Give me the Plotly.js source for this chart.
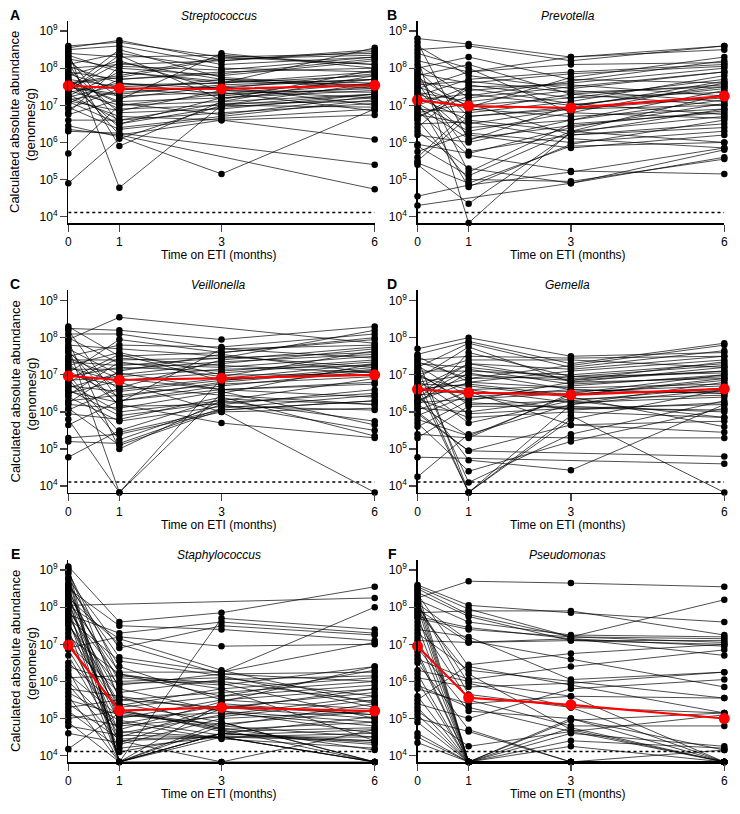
<!DOCTYPE html>
<html>
<head>
<meta charset="utf-8">
<script src="https://cdn.plot.ly/plotly-3.0.1.min.js"></script>
<style>
html,body{margin:0;padding:0;background:#fff;}
#chart{width:740px;height:814px;}
</style>
</head>
<body>
<div id="chart"></div>
<script>
// ---------------- DATA (log10 genomes/g; 3.83 = below detection, plotted on the axis floor) ----------------
const months = [0, 1, 3, 6];
const LOD = 1.3e4;
const tickVals = [1e4, 1e5, 1e6, 1e7, 1e8, 1e9];
const tickText = ['10<sup>4</sup>','10<sup>5</sup>','10<sup>6</sup>','10<sup>7</sup>','10<sup>8</sup>','10<sup>9</sup>'];
const taxa = ['Streptococcus','Prevotella','Veillonella','Gemella','Staphylococcus','Pseudomonas'];
const letters = ['A','B','C','D','E','F'];

// Streptococcus
const strepM0 = [8.6,8.55,8.5,8.45,8.4,8.35,8.3,8.25,8.2,8.1,8.05,8.0,7.95,7.9,7.85,7.8,7.75,7.7,7.65,7.6,7.55,7.5,7.45,7.4,7.35,7.3,7.25,7.2,7.15,7.1,7.05,6.45,6.3,6.35,5.7,4.9,6.9,6.8,6.75,7.62,7.48,7.38,7.22,7.12,7.68,8.15,6.95,7.58,7.42,6.6];
const strepM1 = [8.7,8.75,8.6,4.78,8.3,7.9,6.5,8.0,7.2,8.4,7.6,8.1,6.8,7.7,7.4,8.2,6.2,7.5,7.1,7.8,6.9,7.3,8.5,7.0,7.6,6.6,7.9,6.7,7.35,6.5,7.7,6.15,6.25,6.2,7.0,6.1,7.45,8.05,7.15,6.4,7.25,8.35,7.55,6.85,7.05,5.9,6.35,7.75,8.15,6.6];
const strepM3 = [8.3,8.2,8.1,7.0,8.35,7.6,7.2,7.8,7.5,8.0,7.3,8.2,6.9,7.9,7.7,7.4,6.6,7.6,7.2,8.3,7.0,7.55,7.75,7.1,7.45,6.8,7.65,6.6,7.5,6.95,7.85,5.15,null,null,7.3,7.0,7.25,7.95,8.4,6.7,7.35,7.15,7.6,7.4,6.75,7.1,6.65,8.25,7.7,7.05];
const strepM6 = [8.4,8.5,8.3,7.6,8.1,7.8,7.5,8.2,7.0,7.9,7.7,8.45,7.3,8.0,7.6,7.2,6.74,7.9,7.4,8.1,6.95,7.7,7.5,7.3,7.85,7.05,7.55,6.08,7.7,7.2,8.25,6.9,5.4,4.74,7.45,7.3,7.6,8.3,8.0,7.15,6.85,7.95,8.55,7.35,7.25,7.8,6.9,8.35,7.45,7.1];
const strepMean = [7.53, 7.46, 7.44, 7.54];

// Prevotella
const prevM0 = [8.8,8.7,8.5,8.3,8.2,8.1,8.0,7.95,7.9,7.85,7.8,7.7,7.65,7.6,7.5,7.45,7.4,7.35,7.3,7.25,7.2,7.15,7.1,7.05,7.0,6.95,6.9,6.85,6.8,6.75,6.7,6.6,6.5,6.4,6.3,6.2,5.9,5.75,5.6,5.45,5.4,4.55,4.3,8.6,8.4,7.75,7.55,6.65,5.95,5.5];
const prevM1 = [8.65,6.05,8.6,3.83,7.9,7.2,8.3,6.7,5.2,7.6,8.1,6.4,7.4,5.75,7.0,7.9,6.2,7.1,6.9,7.7,6.6,7.3,4.8,6.3,7.5,6.1,6.8,5.65,7.05,6.5,7.25,5.0,6.55,7.55,5.3,6.0,5.1,6.25,6.85,4.9,4.35,4.85,null,7.8,8.0,6.95,7.65,7.45,5.7,6.7];
const prevM3 = [8.3,7.0,8.2,6.3,8.1,7.5,7.7,6.9,6.5,7.85,7.3,6.6,7.6,6.2,7.2,8.3,5.85,7.4,6.7,7.9,6.3,7.0,5.95,6.8,7.55,6.45,7.1,5.23,6.2,6.9,7.65,4.95,6.1,7.2,4.9,6.6,6.3,6.0,7.3,5.9,6.25,5.2,4.9,7.45,6.8,7.75,7.35,7.05,6.4,6.95];
const prevM6 = [8.5,7.5,8.6,7.3,8.15,7.9,7.6,7.2,6.8,8.05,7.0,7.4,8.0,6.5,7.7,8.6,6.2,7.1,6.9,8.1,6.0,7.45,6.6,7.6,7.25,6.85,7.8,5.15,6.4,7.0,8.2,5.55,5.85,7.35,5.8,7.15,6.7,6.3,7.55,6.0,6.9,5.85,5.6,7.9,6.65,8.3,7.5,6.75,7.05,7.65];
const prevMean = [7.14, 6.98, 6.93, 7.25];

// Veillonella
const veilM0 = [7.95,8.3,8.25,8.2,8.1,8.0,7.9,7.8,7.75,7.7,7.6,7.5,7.45,7.4,7.3,7.25,7.2,7.15,7.1,7.05,7.0,6.95,6.9,6.85,6.8,6.75,6.7,6.65,6.6,6.5,6.45,6.4,6.3,6.2,6.1,6.05,5.95,5.8,5.65,5.3,5.2,4.78,7.35,6.55,7.65,6.25,7.0,6.88];
const veilM1 = [8.55,7.5,8.2,6.3,8.1,7.3,5.0,7.7,3.83,7.0,6.6,7.8,6.9,7.4,6.2,7.6,6.8,7.15,6.4,7.95,6.7,7.2,5.25,6.95,7.45,6.0,6.55,7.05,5.9,6.85,7.35,5.75,6.45,6.1,5.1,6.65,5.8,3.83,6.3,5.4,5.15,5.5,7.25,6.25,6.15,7.1,5.45,7.55];
const veilM3 = [null,7.6,7.95,6.7,7.7,7.2,6.3,7.5,6.5,7.3,6.9,7.75,6.6,7.45,5.7,7.0,6.0,7.35,6.8,7.6,6.45,7.1,6.2,7.15,7.25,6.3,6.85,6.6,6.25,7.05,6.95,6.15,6.75,6.55,6.05,7.4,6.4,6.9,6.6,6.0,6.1,6.35,7.45,7.7,6.2,7.55,6.05,6.85];
const veilM6 = [7.85,8.0,8.3,7.1,7.8,7.5,6.9,7.2,7.3,7.7,7.3,8.1,6.4,7.6,5.3,7.0,3.83,7.55,7.15,7.95,6.2,7.4,6.6,7.25,7.05,5.75,7.2,6.8,6.5,7.35,7.65,6.05,6.95,5.65,6.3,7.75,5.35,7.0,6.75,6.1,6.45,6.2,8.2,7.45,5.5,7.05,6.3,7.12];
const veilMean = [6.97, 6.86, 6.91, 7.0];

// Gemella
const gemM0 = [7.7,7.55,7.5,7.45,7.4,7.3,7.25,7.2,7.15,7.1,7.05,7.0,6.95,6.9,6.85,6.8,6.75,6.7,6.65,6.6,6.55,6.5,6.45,6.4,6.35,6.3,6.25,6.2,6.15,6.1,6.05,6.0,5.9,5.8,5.7,5.6,5.4,5.3,4.78,4.25,7.35,6.88,6.62,6.28,5.95,7.02,6.48,6.72];
const gemM1 = [8.0,7.9,6.8,3.83,7.5,7.2,6.4,7.85,4.1,7.1,6.2,7.4,6.6,7.75,5.95,7.0,6.7,3.83,7.3,6.5,6.9,4.7,6.6,7.15,5.85,6.8,6.35,5.35,7.6,6.0,6.55,4.95,6.45,5.35,4.4,6.3,5.3,6.15,null,5.4,6.9,3.83,6.75,7.05,4.95,6.25,7.3,5.7];
const gemM3 = [7.5,7.3,7.1,6.2,7.45,6.9,6.6,7.2,5.4,7.0,6.3,7.4,6.7,6.8,6.1,6.85,6.4,5.8,7.15,6.55,6.95,4.43,6.25,6.75,6.0,6.65,6.5,5.3,6.95,6.35,5.65,null,6.05,6.45,5.2,6.8,6.5,6.15,null,6.2,7.25,5.9,6.45,6.6,5.65,6.1,6.85,6.3];
const gemM6 = [7.6,7.85,7.4,6.8,7.5,7.1,6.5,7.65,6.3,7.3,5.85,7.2,7.0,6.9,6.2,7.35,5.6,6.6,7.5,6.7,7.05,6.2,6.4,6.95,5.85,6.75,6.55,5.3,7.25,6.45,5.45,4.8,6.25,6.9,6.1,7.2,7.0,6.0,4.6,6.6,7.8,3.83,6.85,6.5,5.75,6.05,7.1,6.65];
const gemMean = [6.61, 6.52, 6.46, 6.62];

// Staphylococcus
const staphM0 = [8.05,9.1,9.05,9.0,8.95,8.9,8.5,8.45,8.4,8.35,8.3,8.25,8.2,8.15,8.1,8.05,8.0,7.95,7.9,7.85,7.8,7.75,7.7,7.6,7.5,7.4,7.3,7.2,7.1,7.0,6.9,6.7,6.5,6.3,6.2,6.1,6.0,5.9,5.8,5.7,5.6,5.5,5.4,5.3,5.2,5.1,5.0,4.9,4.8,4.6,4.18,8.6,8.75,8.55,8.8,8.65,7.65,7.55,6.85,6.4];
const staphM1 = [null,7.6,3.83,5.5,6.2,3.83,7.5,5.8,3.83,6.0,5.2,7.0,4.3,6.25,5.0,7.15,3.83,5.6,6.1,4.6,7.3,5.4,6.55,4.9,5.9,3.83,5.25,6.2,4.5,5.7,7.2,4.4,5.3,3.83,5.05,6.15,4.7,4.4,5.6,4.95,3.83,5.1,4.45,5.5,4.2,4.8,5.2,3.83,4.55,4.35,5.15,6.65,6.9,4.85,3.83,6.4,4.1,5.35,4.65,5.95];
const staphM3 = [null,7.85,7.7,5.3,5.6,4.5,7.4,5.2,3.83,6.1,4.8,6.2,5.0,6.25,5.5,6.3,4.6,4.7,5.9,5.1,7.6,4.9,6.15,4.45,6.2,5.4,4.65,5.8,5.3,6.05,6.95,4.5,5.6,4.6,5.15,5.95,5.45,3.83,5.2,4.55,4.8,4.85,4.5,5.7,4.5,5.05,4.7,4.6,4.5,5.25,4.75,6.25,7.5,5.35,4.9,5.5,4.6,5.8,4.5,6.0];
const staphM6 = [8.25,8.55,7.4,5.0,6.3,3.83,7.1,4.9,4.7,5.6,4.5,6.0,5.2,8.0,5.8,5.4,4.4,3.83,6.4,5.6,7.3,3.83,5.3,4.2,6.25,5.1,4.75,4.4,5.7,6.15,7.0,3.83,5.9,4.3,4.8,5.0,6.4,3.83,4.6,4.7,5.4,5.2,4.5,6.0,3.83,5.5,4.9,5.05,4.4,5.8,4.15,7.05,7.25,5.1,3.83,5.25,4.35,6.1,4.6,5.45];
const staphMean = [6.98, 5.21, 5.30, 5.20];

// Pseudomonas
const pseudM0 = [8.25,8.6,8.5,8.45,8.4,8.35,8.3,8.2,8.15,8.1,8.05,8.0,7.95,7.9,7.85,7.8,7.7,7.6,7.5,7.4,7.3,7.2,7.1,6.9,6.7,6.6,6.5,6.3,6.2,6.1,6.0,5.9,5.8,5.6,5.5,5.4,5.3,5.2,5.1,5.0,4.9,4.6,4.5,4.35,8.55,7.75,6.8,8.1];
const pseudM1 = [8.7,8.05,7.8,3.83,7.75,6.4,3.83,7.6,3.83,7.1,5.95,3.83,7.05,6.2,7.9,3.83,7.4,5.5,3.83,7.2,6.3,3.83,7.05,5.2,3.83,6.05,4.7,6.0,3.83,5.85,3.83,5.3,5.4,3.83,6.45,5.0,3.83,4.25,3.83,4.65,3.83,3.83,3.83,3.83,7.95,7.45,3.83,5.65];
const pseudM3 = [8.65,7.85,7.2,3.83,7.1,5.9,4.4,7.25,3.83,6.6,5.3,4.6,7.15,4.7,7.9,3.83,7.2,4.8,3.83,6.05,6.0,4.75,7.1,5.0,4.95,6.4,3.83,5.6,3.83,5.95,4.25,4.65,5.6,3.83,6.75,5.8,3.83,4.65,3.83,3.83,3.83,5.0,3.83,3.83,7.2,7.15,3.83,5.3];
const pseudM6 = [8.55,7.6,7.15,3.83,7.0,5.15,4.2,7.2,3.83,5.85,3.83,4.25,6.7,3.83,7.25,3.83,8.2,4.8,4.15,6.25,5.55,3.83,7.1,3.83,5.15,6.85,3.83,3.83,3.83,6.25,3.83,3.83,5.55,3.83,7.0,6.05,3.83,5.1,3.83,3.83,3.83,4.15,3.83,3.83,7.05,6.95,3.83,5.15];
const pseudMean = [6.95, 5.56, 5.37, 5.00];

// ---------------- BUILD ----------------
const panels = [
  {t: [strepM0, strepM1, strepM3, strepM6], mean: strepMean},
  {t: [prevM0, prevM1, prevM3, prevM6], mean: prevMean},
  {t: [veilM0, veilM1, veilM3, veilM6], mean: veilMean},
  {t: [gemM0, gemM1, gemM3, gemM6], mean: gemMean},
  {t: [staphM0, staphM1, staphM3, staphM6], mean: staphMean},
  {t: [pseudM0, pseudM1, pseudM3, pseudM6], mean: pseudMean}
];

const W = 740, H = 814;
const px = v => v / W;
const py = v => 1 - v / H;
const colX = [[68.3, 374.7], [417.5, 724.3]];
const rowY = [[20.7, 223.3], [290.2, 492.8], [559.7, 762.3]];
const FONT = 'Arial, "Liberation Sans", sans-serif';

const traces = [];
const layout = {
  width: W, height: H,
  margin: {l: 0, r: 0, t: 0, b: 0},
  paper_bgcolor: '#fff', plot_bgcolor: '#fff',
  showlegend: false,
  font: {family: FONT, size: 12, color: '#000'},
  annotations: []
};

panels.forEach((p, k) => {
  const col = k % 2, row = Math.floor(k / 2);
  const sfx = k === 0 ? '' : String(k + 1);
  const xa = 'x' + sfx, ya = 'y' + sfx;
  const n = p.t[0].length;
  const lx = [], ly = [], mx = [], my = [];
  for (let i = 0; i < n; i++) {
    for (let j = 0; j < 4; j++) {
      const v = p.t[j][i];
      if (v === null || v === undefined) continue;
      lx.push(months[j]); ly.push(Math.pow(10, v));
      mx.push(months[j]); my.push(Math.pow(10, v));
    }
    lx.push(null); ly.push(null);
  }
  traces.push({x: [0, 6], y: [LOD, LOD], mode: 'lines', xaxis: xa, yaxis: ya,
    line: {color: '#000', width: 1.5, dash: 'dot'}, hoverinfo: 'skip', cliponaxis: false});
  traces.push({x: lx, y: ly, mode: 'lines', xaxis: xa, yaxis: ya, connectgaps: false,
    line: {color: '#000', width: 0.7}, hoverinfo: 'skip', cliponaxis: false});
  traces.push({x: mx, y: my, mode: 'markers', xaxis: xa, yaxis: ya,
    marker: {color: '#000', size: 6.5}, hoverinfo: 'skip', cliponaxis: false});
  traces.push({x: months, y: p.mean.map(v => Math.pow(10, v)), mode: 'lines+markers', xaxis: xa, yaxis: ya,
    line: {color: '#ff0000', width: 2.2}, marker: {color: '#ff0000', size: 11}, hoverinfo: 'skip', cliponaxis: false});

  const xd = [px(colX[col][0]), px(colX[col][1])];
  const yd = [py(rowY[row][1]), py(rowY[row][0])];
  layout['xaxis' + sfx] = {
    domain: xd, anchor: ya, range: [0, 6], tickvals: months, ticktext: months.map(String),
    ticks: 'outside', ticklen: 7, tickwidth: 1.3, showline: true, linewidth: 1.3, linecolor: '#000',
    showgrid: false, zeroline: false, tickfont: {size: 12, family: FONT, color: '#000'}, fixedrange: true
  };
  layout['yaxis' + sfx] = {
    domain: yd, anchor: xa, type: 'log', range: [3.82, 9.28], tickvals: tickVals, ticktext: tickText,
    ticks: 'outside', ticklen: 7, tickwidth: 1.3, showline: true, linewidth: 1.3, linecolor: '#000',
    showgrid: false, zeroline: false, tickfont: {size: 12, family: FONT, color: '#000'}, fixedrange: true
  };

  const cx = (colX[col][0] + colX[col][1]) / 2;
  layout.annotations.push({xref: 'paper', yref: 'paper', x: px(col === 0 ? 15 : 392), y: py(rowY[row][0] - 6),
    text: '<b>' + letters[k] + '</b>', showarrow: false, xanchor: 'center', yanchor: 'middle',
    font: {size: 14, family: FONT, color: '#000'}});
  layout.annotations.push({xref: 'paper', yref: 'paper', x: px(cx - 3), y: py(rowY[row][0] - 5),
    text: '<i>' + taxa[k] + '</i>', showarrow: false, xanchor: 'center', yanchor: 'middle',
    font: {size: 12, family: FONT, color: '#000'}});
  layout.annotations.push({xref: 'paper', yref: 'paper', x: px(cx - 3), y: py(rowY[row][1] + 32),
    text: 'Time on ETI (months)', showarrow: false, xanchor: 'center', yanchor: 'middle',
    font: {size: 12, family: FONT, color: '#000'}});
  if (col === 0) {
    const cy = (rowY[row][0] + rowY[row][1]) / 2;
    layout.annotations.push({xref: 'paper', yref: 'paper', x: px(15), y: py(cy), textangle: -90,
      text: 'Calculated absolute abundance', showarrow: false, xanchor: 'center', yanchor: 'middle',
      font: {size: 13, family: FONT, color: '#000'}});
    layout.annotations.push({xref: 'paper', yref: 'paper', x: px(31), y: py(cy + 3), textangle: -90,
      text: '(genomes/g)', showarrow: false, xanchor: 'center', yanchor: 'middle',
      font: {size: 13, family: FONT, color: '#000'}});
  }
});

Plotly.newPlot('chart', traces, layout, {staticPlot: true, displayModeBar: false});
</script>
</body>
</html>
